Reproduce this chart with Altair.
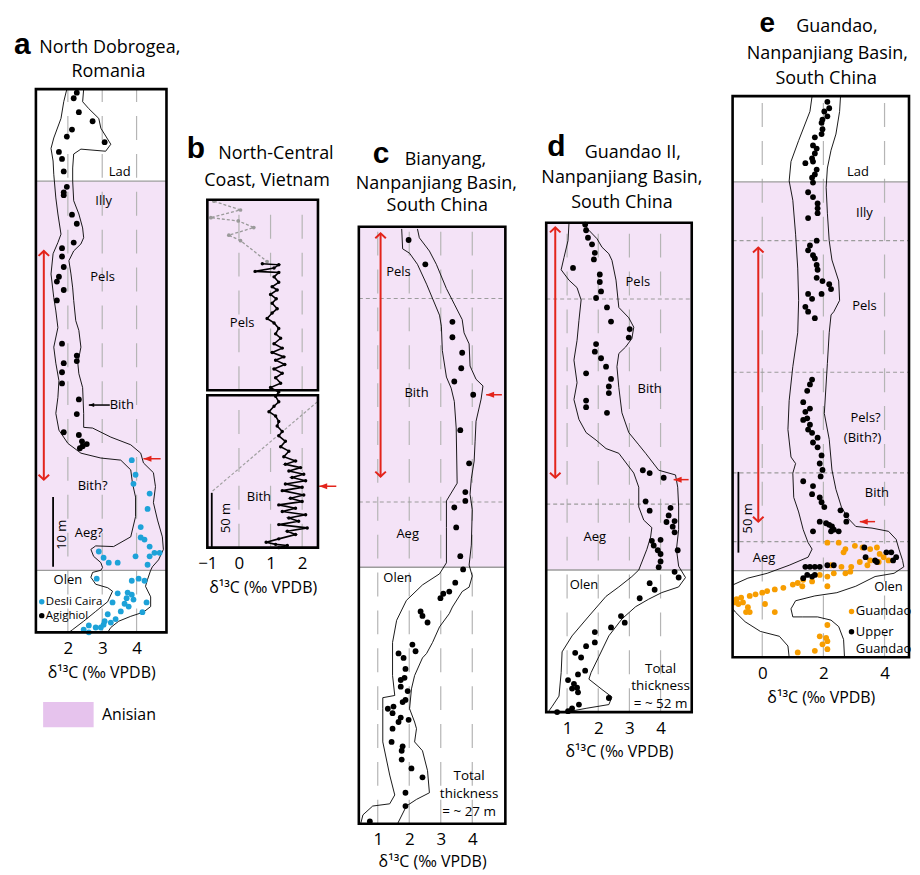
import altair as alt
import pandas as pd

FONT = "Open Sans"
LETTER_FONT = "Liberation Sans"
RED = "#e3241b"
PURPLE = "#f4e3f7"
PURPLE_KEY = "#e6c3ed"
BLUE = "#1da2d8"
ORANGE = "#f79d00"
GRID_GREY = "#b5b5b5"
LINE_GREY = "#9c9c9c"
AXIS_TITLE = "δ¹³C (‰ VPDB)"

# ---------------- panel a : North Dobrogea ----------------
A_AGI_D13C = [2.26, 2.17, 2.32, 2.72, 2.12, 1.97, 3.07, 1.74, 1.83, 1.88, 1.97, 1.88, 1.88, 2.12, 2.26, 2.17,
              1.83, 1.83, 1.88, 1.74, 1.68, 1.88, 1.68, 1.83, 2.26, 2.26, 1.88, 1.83, 1.83, 2.32, 2.26, 1.88,
              2.32, 2.41, 2.55, 2.35, 2.43]
A_AGI_H = [77.4, 76.6, 74.6, 73.3, 72.1, 71.1, 70.3, 68.9, 67.9, 66.1, 63.9, 63.1, 62.7, 59.9, 58.6, 55.9,
           55.1, 53.9, 52.4, 51.0, 50.3, 49.1, 47.6, 41.4, 39.7, 38.9, 38.6, 37.3, 35.7, 33.4, 31.3, 28.7,
           28.3, 27.4, 27.0, 26.4, 26.7]
A_DC_D13C = [3.86, 3.97, 3.91, 4.38, 4.32, 4.12, 4.12, 4.23, 4.38, 4.52, 4.67, 4.38, 4.32, 3.97, 2.90, 3.04,
             3.19, 3.45, 2.84, 3.86, 4.06, 4.23, 3.45, 3.74, 3.86, 3.91, 3.71, 3.65, 3.77, 4.29, 4.17, 3.30,
             3.16, 3.54, 3.39, 3.25, 3.07, 3.04, 2.96, 2.81, 2.61, 2.46, 2.61]
A_DC_H = [24.7, 22.6, 21.3, 19.9, 17.7, 15.1, 13.6, 13.3, 12.3, 11.4, 11.4, 10.9, 9.7, 10.9, 11.6, 10.7,
          10.0, 10.0, 7.7, 7.4, 7.7, 7.4, 5.6, 5.7, 5.4, 4.7, 4.9, 4.1, 3.7, 4.3, 2.9, 4.3,
          2.6, 3.0, 1.9, 1.4, 1.6, 1.1, 0.7, 0.7, 1.0, 0.4, 0.0]
A_ENV_L_D13C = [1.97, 1.88, 1.80, 1.59, 1.51, 1.57, 1.59, 1.65, 1.71, 1.80, 1.71, 1.57, 1.51, 1.59, 1.65, 1.71,
                1.59, 1.65, 1.74, 1.71, 1.65, 1.74, 2.00, 2.38, 2.96, 3.54, 3.83, 3.88, 3.97, 3.97, 3.83, 3.33,
                2.81, 2.67, 2.75, 2.96, 3.01, 2.96, 2.72, 2.67, 2.81, 3.16, 3.30, 3.16, 2.81, 2.46, 2.14, 2.03]
A_ENV_L_H = [77.9, 76.1, 73.7, 70.9, 69.4, 67.6, 65.7, 62.3, 60.0, 57.1, 55.9, 54.3, 51.4, 48.0, 46.1, 43.7,
             40.9, 38.6, 36.1, 33.7, 31.4, 29.0, 27.1, 25.7, 25.0, 24.7, 23.3, 21.4, 19.4, 16.6, 13.7, 12.3,
             12.4, 11.9, 10.9, 10.0, 9.3, 8.9, 8.6, 7.9, 6.9, 6.4, 5.9, 4.4, 3.0, 1.6, 0.4, 0.0]
A_ENV_R_D13C = [2.46, 2.43, 2.61, 2.90, 2.96, 3.25, 3.10, 2.38, 2.17, 2.14, 2.14, 2.17, 2.32, 2.43, 2.46, 2.38,
                2.17, 2.03, 2.09, 2.14, 2.17, 2.23, 2.32, 2.38, 2.29, 2.32, 2.43, 2.46, 2.46, 2.72, 3.25, 3.83,
                4.12, 4.20, 4.49, 4.55, 4.49, 4.61, 4.75, 4.78, 4.64, 4.46, 4.41, 4.32, 4.26, 4.41, 4.41, 4.20,
                3.83, 3.48, 3.25, 3.16]
A_ENV_R_H = [77.9, 76.1, 75.1, 73.7, 72.3, 70.0, 69.0, 69.3, 68.6, 66.6, 64.7, 61.9, 60.0, 58.0, 56.6, 55.7,
             54.7, 53.3, 51.4, 49.4, 47.6, 44.7, 43.3, 40.9, 38.6, 37.1, 35.1, 31.4, 29.4, 29.3, 28.0, 26.9,
             25.7, 24.3, 22.9, 20.9, 18.6, 16.1, 13.7, 11.9, 10.4, 9.4, 8.9, 7.6, 6.6, 5.1, 3.7, 2.9,
             2.3, 1.6, 0.7, 0.0]
A_STAGE_TEXT = ["Lad", "Illy", "Pels", "Bith", "Bith?", "Aeg?", "Olen"]
A_STAGE_D13C = [3.51, 3.04, 3.01, 3.57, 2.72, 2.61, 2.0]
A_STAGE_H = [66.0, 61.9, 50.9, 32.6, 21.0, 14.3, 7.5]

# ---------------- panel b : North-Central Coast, Vietnam ----------------
B_BLK_D13C = [0.74, 1.26, 1.11, 0.51, 1.26, 1.11, 1.26, 1.05, 1.21, 1.00, 1.18, 1.05, 1.21, 1.05, 0.89, 1.11,
              1.26, 1.16, 1.32, 1.11, 1.37, 1.05, 1.42, 1.16, 1.45, 1.11, 1.37, 1.16, 1.32, 1.00, 1.26, 1.16,
              1.26, 1.11, 0.95, 1.16, 1.26, 1.21, 1.37, 1.26, 1.47, 1.32, 1.58, 1.42, 1.79, 1.47, 1.95, 1.58,
              2.05, 1.68, 2.11, 1.47, 2.00, 1.37, 2.05, 1.63, 2.00, 1.26, 1.79, 1.37, 2.11, 1.58, 1.89, 1.26,
              2.16, 1.53, 1.79, 1.26, 0.86, 1.16, 1.53, 1.26]
B_BLK_H = [259, 258, 255, 252, 251, 247, 242, 238, 235, 231, 227, 223, 218, 214, 209, 205,
           200, 195, 191, 186, 182, 178, 174, 171, 167, 163, 159, 155, 150, 146, 142, 138,
           133, 129, 124, 120, 115, 111, 106, 102, 97, 92, 88, 83, 79, 76, 73, 70,
           67, 64, 61, 58, 55, 52, 48, 45, 42, 39, 36, 33, 30, 27, 24, 21,
           18, 15, 12, 8, 5, 3, 2, 0]
B_GREY_D13C = [-0.79, 0.05, -0.89, -0.02, 0.47, -0.32, 0.05, 0.89]
B_GREY_H = [316, 308, 301, 298, 292, 285, 280, 261]
B_STAGE_TEXT = ["Pels", "Bith"]
B_STAGE_D13C = [0.1, 0.63]
B_STAGE_H = [205, 46]

# ---------------- panel c : Bianyang ----------------
C_D13C = [1.98, 2.51, 3.37, 3.37, 3.68, 3.65, 3.43, 4.03, 3.62, 3.90, 3.78, 3.78, 3.43, 3.49, 3.62, 3.71,
          3.46, 3.27, 3.08, 2.99, 2.36, 2.42, 2.58, 2.10, 2.20, 1.66, 1.82, 1.88, 1.73, 1.85, 1.73, 1.95,
          1.79, 1.88, 1.32, 1.50, 1.47, 1.73, 1.66, 1.98, 1.47, 1.44, 1.79, 1.76, 1.76, 2.07, 2.42, 1.88,
          1.88, 0.75]
C_H = [26.4, 25.3, 22.7, 22.0, 21.3, 20.6, 20.0, 19.4, 17.8, 16.3, 15.0, 14.6, 14.3, 13.4, 12.1, 11.5,
       10.9, 10.5, 10.4, 10.2, 9.6, 9.4, 9.1, 8.1, 7.8, 7.7, 7.5, 7.0, 6.5, 6.6, 6.2, 6.0,
       5.5, 5.6, 5.2, 5.3, 5.0, 4.8, 4.6, 4.7, 4.3, 3.7, 3.5, 3.3, 2.9, 2.5, 2.1, 1.4,
       0.8, 0.1]
C_ENV_L_D13C = [1.76, 1.79, 2.01, 2.26, 2.55, 2.96, 3.02, 3.05, 3.18, 3.33, 3.43, 3.49, 3.52, 3.18, 3.18, 3.18,
                2.96, 2.42, 1.91, 1.60, 1.47, 1.47, 1.54, 1.16, 1.16, 1.16, 1.38, 1.54, 1.38, 0.84, 0.53, 0.46]
C_ENV_L_H = [26.9, 26.0, 25.8, 25.3, 24.4, 23.0, 22.5, 21.4, 20.2, 19.7, 19.1, 17.9, 15.4, 14.6, 13.4, 11.8,
             11.3, 10.8, 10.1, 9.2, 8.2, 6.7, 5.8, 5.7, 5.2, 3.7, 2.2, 1.3, 0.9, 0.8, 0.4, 0.0]
C_ENV_R_D13C = [2.26, 2.32, 2.64, 2.86, 3.18, 3.43, 3.68, 3.74, 3.90, 3.93, 4.12, 4.34, 4.28, 4.12, 4.09, 4.06,
                3.97, 3.93, 4.00, 3.97, 3.90, 4.00, 3.90, 3.68, 3.37, 3.27, 2.96, 2.74, 2.55, 2.42, 2.17, 2.07,
                2.01, 2.17, 2.23, 2.17, 2.42, 2.58, 2.64, 2.23, 1.91, 1.63]
C_ENV_R_H = [26.9, 26.5, 25.9, 25.3, 24.2, 23.5, 22.8, 22.2, 21.7, 20.7, 20.1, 19.8, 19.2, 18.2, 17.3, 16.4,
             15.6, 14.9, 14.2, 12.6, 11.7, 11.2, 10.7, 10.5, 9.8, 9.5, 8.9, 8.2, 7.7, 7.5, 6.7, 6.1,
             5.2, 4.6, 4.3, 3.7, 3.3, 2.4, 1.4, 1.1, 0.8, 0.0]
C_STAGE_TEXT = ["Pels", "Bith", "Aeg", "Olen"]
C_STAGE_D13C = [1.66, 2.23, 1.95, 1.63]
C_STAGE_H = [24.96, 19.5, 13.1, 11.1]
C_NOTE = ["Total", "thickness", "= ~ 27 m"]
C_NOTE_H = [2.14, 1.34, 0.54]

# ---------------- panel d : Guandao II ----------------
D_D13C = [1.58, 1.61, 1.67, 1.80, 1.89, 1.86, 1.19, 2.05, 2.05, 2.09, 1.93, 2.28, 2.41, 3.01, 2.98, 1.93,
          1.89, 2.09, 2.25, 1.61, 2.41, 2.34, 2.34, 1.61, 1.61, 2.28, 3.43, 3.65, 4.10, 3.52, 3.65, 4.32,
          4.26, 4.19, 4.45, 4.39, 4.45, 3.72, 3.78, 4.00, 3.91, 4.00, 4.55, 4.00, 3.94, 4.45, 4.58, 3.65,
          3.81, 3.33, 2.73, 2.85, 2.41, 1.89, 1.89, 1.61, 1.26, 1.45, 1.58, 1.35, 1.03, 1.22, 1.32, 1.35,
          1.16, 2.34, 1.38, 1.16, 1.03, 0.68]
D_H = [51.8, 51.2, 50.4, 49.7, 48.8, 48.1, 47.2, 46.5, 45.7, 44.7, 44.0, 43.0, 41.5, 40.7, 39.8, 39.1,
       38.3, 37.6, 36.7, 36.0, 35.4, 34.6, 33.9, 33.1, 32.4, 31.8, 25.7, 25.4, 24.9, 22.4, 21.4, 21.7,
       20.9, 20.2, 20.3, 19.7, 19.1, 18.2, 17.7, 18.3, 17.2, 16.8, 17.2, 16.0, 15.4, 14.9, 14.3, 13.7,
       13.0, 12.1, 10.2, 9.5, 9.0, 8.5, 7.4, 7.0, 6.3, 5.8, 4.4, 4.0, 3.4, 3.0, 2.6, 2.1,
       2.5, 1.5, 0.8, 0.4, 0.1, 0.0]
D_ENV_L_D13C = [1.06, 1.03, 0.90, 0.81, 1.06, 1.32, 1.45, 1.38, 1.32, 1.22, 1.32, 1.22, 1.38, 1.61, 1.93, 2.25,
                2.66, 3.14, 3.30, 3.30, 3.46, 3.72, 3.68, 3.56, 3.30, 3.08, 2.66, 2.25, 1.70, 1.16, 0.84, 0.81,
                0.74, 0.52, 0.39]
D_ENV_L_H = [51.9, 50.1, 48.3, 47.0, 45.9, 45.1, 43.8, 41.6, 39.5, 37.4, 35.0, 33.2, 31.1, 29.7, 28.9, 28.0,
             27.5, 25.4, 23.9, 21.8, 20.4, 19.6, 18.6, 17.3, 15.1, 14.4, 13.3, 12.3, 10.2, 8.1, 6.4, 4.2,
             1.7, 0.6, 0.0]
D_ENV_R_D13C = [1.54, 1.70, 1.96, 2.12, 2.34, 2.44, 2.57, 2.66, 2.98, 3.14, 3.08, 2.88, 2.66, 2.60, 2.66, 2.76,
                2.98, 3.30, 3.52, 3.94, 4.48, 4.55, 4.58, 4.58, 4.51, 4.58, 4.80, 4.58, 4.04, 3.62, 3.20, 2.76,
                2.34, 2.02, 1.77, 1.70, 2.12, 2.44, 2.34, 1.61, 0.97]
D_ENV_R_H = [51.9, 51.2, 50.3, 49.4, 48.7, 48.0, 45.9, 43.0, 41.9, 40.9, 39.7, 38.8, 38.1, 36.7, 34.5, 31.8,
             29.7, 28.4, 27.5, 25.7, 25.2, 23.9, 21.8, 19.4, 17.3, 15.5, 14.3, 13.3, 12.7, 12.0, 11.2, 9.9,
             8.1, 5.9, 4.2, 3.5, 2.4, 1.6, 0.8, 0.4, 0.0]
D_STAGE_TEXT = ["Pels", "Bith", "Aeg", "Olen"]
D_STAGE_D13C = [3.27, 3.65, 1.89, 1.54]
D_STAGE_H = [45.7, 34.3, 18.6, 13.5]
D_NOTE = ["Total", "thickness", "= ~ 52 m"]
D_NOTE_H = [4.6, 2.75, 0.85]

# ---------------- panel e : Guandao ----------------
E_UG_D13C = [2.13, 2.19, 2.03, 2.13, 1.97, 1.94, 1.97, 1.94, 1.72, 1.66, 1.78, 1.72, 1.63, 1.41, 1.66, 1.78,
             1.72, 1.63, 1.66, 1.50, 1.66, 1.81, 1.81, 1.81, 1.50, 1.78, 1.56, 1.50, 1.66, 1.72, 1.78, 1.81,
             1.78, 1.97, 2.19, 2.25, 1.94, 1.50, 1.63, 1.41, 1.50, 1.72,
             1.63, 1.56, 1.47, 1.34, 1.56, 1.41, 1.47, 1.34, 1.56, 1.50, 1.63, 1.81, 1.66, 1.81, 1.94, 1.88,
             1.97, 1.91, 1.34, 1.66, 1.63, 1.88, 1.94, 2.03, 2.56, 2.75, 2.75, 1.88, 2.09, 2.19, 2.28, 2.34,
             2.50, 1.66, 2.25,
             1.41, 1.56, 1.72, 1.88, 2.13, 2.34, 1.47, 1.63, 1.34, 1.72, 3.34, 3.38, 3.69, 3.75, 4.06, 4.22,
             4.28, 4.38]
E_UG_H = [344, 340, 338, 335, 333, 331, 327, 324, 322, 317, 315, 312, 309, 306, 307, 302,
          299, 297, 294, 288, 285, 281, 278, 275, 272, 258, 255, 252, 249, 247, 243, 240,
          235, 233, 231, 228, 225, 225, 222, 217, 214, 210,
          172, 169, 165, 158, 154, 152, 148, 147, 144, 141, 139, 136, 133, 130, 125, 120,
          116, 112, 109, 106, 101, 99, 96, 93, 91, 88, 84, 84, 83, 82, 81, 79,
          78, 78, 78,
          56, 56, 56, 56, 57, 57, 51, 50, 49, 51, 68, 62, 60, 59, 65, 65,
          60, 62]
E_G_D13C = [2.13, 2.50, 2.72, 3.03, 3.28, 3.53, 3.75, 3.84, 3.53, 3.81, 4.13, 3.97, 3.19, 2.91, 2.59, 2.25,
            3.44, 2.88, 2.72, 2.34, 2.13, 1.88, 1.63, 1.34, 1.31, 2.13, 1.16, 1.00, 0.69, 0.41, 0.16, 0.00,
            -0.22, -0.41, -0.69, -0.84, -0.78, -0.63, -0.88, -0.47, -0.41, -0.53, 0.09, 0.41, 2.13, 1.88,
            2.09, 2.13, 1.97, 2.13, 1.72, 1.16, 2.66]
E_G_H = [71, 71, 67, 69, 68, 67, 68, 64, 60, 59, 60, 62, 59, 56, 56, 57,
         57, 53, 52, 52, 50, 51, 47, 48, 44, 44, 46, 45, 43, 42, 41, 40,
         39, 38, 37, 36, 33, 34, 34, 31, 28, 28, 33, 28, 20, 13,
         12, 10, 8, 5, 4, 3, 65]
E_ENV_L_D13C = [1.63, 1.56, 1.19, 0.94, 0.88, 1.00, 1.09, 1.16, 1.19, 1.16, 1.00, 0.88, 0.84, 0.94, 1.09, 1.00,
                1.03, 1.19, 1.34, 1.50, 1.63, 1.50, 0.88, 0.16, -0.47, -0.94, -1.25, -1.09, -0.88, -0.56, -0.06,
                0.56, 0.84, 0.88]
E_ENV_L_H = [347.5, 338, 320, 307, 295, 283, 262, 241, 221, 201, 180, 159, 141, 124, 120, 114,
             99, 90, 79, 71, 67, 62, 57, 52, 49, 45, 39, 33, 28, 22, 16,
             13, 7, 0]
E_ENV_R_D13C = [2.56, 2.53, 2.41, 2.25, 2.13, 2.09, 2.13, 2.19, 2.28, 2.50, 2.53, 2.34, 2.25, 2.19, 2.13, 2.03,
                2.19, 2.28, 2.41, 2.59, 2.81, 3.06, 3.59, 4.13, 4.38, 4.47, 4.59, 4.63, 4.31, 3.69, 3.06, 2.44,
                1.72, 1.09, 0.94, 1.00, 1.31, 1.81, 2.25, 2.50, 2.66, 2.69]
E_ENV_R_H = [347.5, 338, 324, 314, 303, 291, 275, 258, 246, 233, 221, 214, 212, 201, 182, 151,
             135, 116, 104, 93, 86, 81, 80, 78, 73, 67, 60, 56, 52, 50, 44, 40,
             38, 35, 30, 25, 25, 25, 23, 19, 11, 0]
E_STAGE_TEXT = ["Lad", "Illy", "Pels", "Pels?", "(Bith?)", "Bith", "Aeg", "Olen"]
E_STAGE_D13C = [3.13, 3.34, 3.34, 3.38, 3.28, 3.75, 0.06, 4.13]
E_STAGE_H = [300.6, 275.3, 217.3, 148.1, 135.8, 101.9, 61.7, 43.8]


def env_df(ld, lh, rd, rh):
    rows = []
    for side, ds, hs in (("L", ld, lh), ("R", rd, rh)):
        for i, (d, h) in enumerate(zip(ds, hs)):
            rows.append({"side": side, "i": i, "d": d, "h": h})
    return pd.DataFrame(rows)


def build_panel(P):
    x0, x1 = P["xdom"]
    xs = alt.Scale(domain=[x0, x1], nice=False, zero=False)
    ys = alt.Scale(domain=[0, P["H"]], range=[P["height"], P["top"]], nice=False, zero=False)
    ax = alt.Axis(values=P["ticks"], title=AXIS_TITLE, grid=False, domain=False, ticks=False,
                  labelFlush=False, labelAngle=0, labelFontSize=17, titleFontSize=16, labelPadding=8,
                  titlePadding=P.get("tpad", 8), titleFontWeight="normal", format="d", labelFont=FONT,
                  titleFont=FONT, labelColor="black", titleColor="black")

    def X(f="d"):
        return alt.X(f, type="quantitative", scale=xs, axis=ax)

    def Y(f="h"):
        return alt.Y(f, type="quantitative", scale=ys, axis=None)

    L = []
    # Anisian shading
    pur = pd.DataFrame({"d": [x0] * len(P["purple"]), "d2": [x1] * len(P["purple"]),
                        "h": [a for a, b in P["purple"]], "h2": [b for a, b in P["purple"]]})
    L.append(alt.Chart(pur).mark_rect(color=PURPLE).encode(x=X(), x2=alt.X2("d2"), y=Y(), y2=alt.Y2("h2")))
    # vertical dashed grid
    grid = pd.DataFrame([{"d": t, "h": a, "h2": b} for t in P["ticks_grid"] for a, b in P["boxes"]])
    L.append(alt.Chart(grid).mark_rule(color=GRID_GREY, strokeWidth=1.2, strokeDash=[24, 14])
             .encode(x=X(), y=Y(), y2=alt.Y2("h2")))
    # stage boundaries
    if P.get("solid"):
        sd = pd.DataFrame({"d": [x0] * len(P["solid"]), "d2": [x1] * len(P["solid"]), "h": P["solid"]})
        L.append(alt.Chart(sd).mark_rule(color=LINE_GREY, strokeWidth=1.3)
                 .encode(x=X(), x2=alt.X2("d2"), y=Y()))
    if P.get("dashed"):
        dd = pd.DataFrame({"d": [x0] * len(P["dashed"]), "d2": [x1] * len(P["dashed"]), "h": P["dashed"]})
        L.append(alt.Chart(dd).mark_rule(color=LINE_GREY, strokeWidth=1.1, strokeDash=[4, 3])
                 .encode(x=X(), x2=alt.X2("d2"), y=Y()))
    # diagonal correlation line (b)
    for (da, ha, db, hb) in P.get("diag", []):
        L.append(alt.Chart(pd.DataFrame({"d": [da], "h": [ha], "d2": [db], "h2": [hb]}))
                 .mark_rule(color="#a0a0a0", strokeWidth=1.2, strokeDash=[3, 2])
                 .encode(x=X(), y=Y(), x2=alt.X2("d2"), y2=alt.Y2("h2")))
    # envelope
    if P.get("env") is not None:
        L.append(alt.Chart(P["env"]).mark_line(color="black", strokeWidth=0.9, clip=True)
                 .encode(x=X(), y=Y(), detail=alt.Detail("side:N"), order=alt.Order("i:Q")))
    # profile lines (b)
    for (ds, hs, col, dash, sw, ps) in P.get("plines", []):
        dfl = pd.DataFrame({"d": ds, "h": hs, "i": list(range(len(ds)))})
        kw = dict(color=col, strokeWidth=sw,
                  point=alt.OverlayMarkDef(color=col, size=ps, filled=True, opacity=1))
        if dash:
            kw["strokeDash"] = dash
        L.append(alt.Chart(dfl).mark_line(**kw).encode(x=X(), y=Y(), order=alt.Order("i:Q")))
    # data points
    for (ds, hs, col) in P.get("points", []):
        L.append(alt.Chart(pd.DataFrame({"d": ds, "h": hs})).mark_circle(size=34, color=col, opacity=1)
                 .encode(x=X(), y=Y()))
    # stage labels
    st, sdx, shy = P["stages"]
    L.append(alt.Chart(pd.DataFrame({"t": st, "d": sdx, "h": shy}))
             .mark_text(font=FONT, fontSize=13, color="black", baseline="middle")
             .encode(x=X(), y=Y(), text=alt.Text("t:N")))
    # notes
    if P.get("note"):
        nt, nd, nh = P["note"]
        L.append(alt.Chart(pd.DataFrame({"t": nt, "d": [nd] * len(nt), "h": nh}))
                 .mark_text(font=FONT, fontSize=13.5, color="black", baseline="middle")
                 .encode(x=X(), y=Y(), text=alt.Text("t:N")))
    # scale bar
    if P.get("scalebar"):
        sbd, h0, h1, txt, td, th = P["scalebar"]
        L.append(alt.Chart(pd.DataFrame({"d": [sbd], "h": [h0], "h2": [h1]}))
                 .mark_rule(color="black", strokeWidth=1.8).encode(x=X(), y=Y(), y2=alt.Y2("h2")))
        L.append(alt.Chart(pd.DataFrame({"t": [txt], "d": [td], "h": [th]}))
                 .mark_text(font=FONT, fontSize=13, angle=270, baseline="middle", color="black")
                 .encode(x=X(), y=Y(), text=alt.Text("t:N")))
    # red double arrow
    if P.get("redarrow"):
        rd, h0, h1 = P["redarrow"]
        L.append(alt.Chart(pd.DataFrame({"d": [rd], "h": [h0], "h2": [h1]}))
                 .mark_rule(color=RED, strokeWidth=2).encode(x=X(), y=Y(), y2=alt.Y2("h2")))
        L.append(alt.Chart(pd.DataFrame({"d": [rd], "h": [h1]}))
                 .mark_point(shape="M-0.75,0.7L0,0L0.75,0.7", filled=False, size=200, strokeWidth=2,
                             color=RED, opacity=1).encode(x=X(), y=Y()))
        L.append(alt.Chart(pd.DataFrame({"d": [rd], "h": [h0]}))
                 .mark_point(shape="M-0.75,-0.7L0,0L0.75,-0.7", filled=False, size=200, strokeWidth=2,
                             color=RED, opacity=1).encode(x=X(), y=Y()))
    # small pointing arrows
    for (dt, dh, hh, col, sz) in P.get("pointers", []):
        L.append(alt.Chart(pd.DataFrame({"d": [dh], "d2": [dt], "h": [hh]}))
                 .mark_rule(color=col, strokeWidth=1.5).encode(x=X(), x2=alt.X2("d2"), y=Y()))
        L.append(alt.Chart(pd.DataFrame({"d": [dh], "h": [hh]}))
                 .mark_point(shape="M0,0L1.6,-0.6L1.6,0.6Z", filled=True, size=sz, color=col, opacity=1)
                 .encode(x=X(), y=Y()))
    # legend entries inside panel
    for (col, dd, dhh, txt, td, fs) in P.get("legend", []):
        if col:
            L.append(alt.Chart(pd.DataFrame({"d": [dd], "h": [dhh]}))
                     .mark_circle(size=30, color=col, opacity=1).encode(x=X(), y=Y()))
        L.append(alt.Chart(pd.DataFrame({"t": [txt], "d": [td], "h": [dhh]}))
                 .mark_text(font=FONT, fontSize=fs, align="left", baseline="middle", color="black")
                 .encode(x=X(), y=Y(), text=alt.Text("t:N")))
    # Anisian key
    if P.get("key"):
        kd0, kd1, kh0, kh1, ktd, kth = P["key"]
        L.append(alt.Chart(pd.DataFrame({"d": [kd0], "d2": [kd1], "h": [kh0], "h2": [kh1]}))
                 .mark_rect(color=PURPLE_KEY).encode(x=X(), x2=alt.X2("d2"), y=Y(), y2=alt.Y2("h2")))
        L.append(alt.Chart(pd.DataFrame({"t": ["Anisian"], "d": [ktd], "h": [kth]}))
                 .mark_text(font=FONT, fontSize=16, align="left", baseline="middle", color="black")
                 .encode(x=X(), y=Y(), text=alt.Text("t:N")))
    # frames
    fr = pd.DataFrame({"d": [x0] * len(P["boxes"]), "d2": [x1] * len(P["boxes"]),
                       "h": [a for a, b in P["boxes"]], "h2": [b for a, b in P["boxes"]]})
    L.append(alt.Chart(fr).mark_rect(fillOpacity=0, stroke="black", strokeWidth=2.6)
             .encode(x=X(), x2=alt.X2("d2"), y=Y(), y2=alt.Y2("h2")))
    # title
    letter, ld, lh, lsize, lines = P["title"]
    L.append(alt.Chart(pd.DataFrame({"t": [letter], "d": [ld], "h": [lh]}))
             .mark_text(font=LETTER_FONT, fontSize=lsize, fontWeight="bold", align="left",
                        baseline="alphabetic", color="black")
             .encode(x=X(), y=Y(), text=alt.Text("t:N")))
    L.append(alt.Chart(pd.DataFrame({"t": [a for a, b, c in lines], "d": [b for a, b, c in lines],
                                     "h": [c for a, b, c in lines]}))
             .mark_text(font=FONT, fontSize=18, align="center", baseline="alphabetic", color="black")
             .encode(x=X(), y=Y(), text=alt.Text("t:N")))
    return alt.layer(*L).properties(width=P["width"], height=P["height"])


PA = dict(xdom=[1.07, 4.87], H=77.9, width=131, height=545, top=0,
          ticks=[2, 3, 4], ticks_grid=[2, 3, 4], boxes=[(0, 77.9)], purple=[(8.9, 64.7)],
          solid=[64.7, 8.9], dashed=[],
          env=env_df(A_ENV_L_D13C, A_ENV_L_H, A_ENV_R_D13C, A_ENV_R_H),
          points=[(A_AGI_D13C, A_AGI_H, "black"), (A_DC_D13C, A_DC_H, BLUE)],
          stages=(A_STAGE_TEXT, A_STAGE_D13C, A_STAGE_H),
          scalebar=(1.57, 9.4, 19.4, "10 m", 1.82, 14.0),
          redarrow=(1.30, 21.9, 54.7),
          pointers=[(4.70, 4.20, 24.9, RED, 100), (3.22, 2.61, 32.6, "black", 45)],
          legend=[(BLUE, 1.24, 4.4, "Desli Caira", 1.36, 11.5), ("black", 1.24, 2.4, "Agighiol", 1.36, 11.5)],
          key=(1.28, 2.75, -10.0, -13.6, 2.99, -11.9),
          title=("a", 0.43, 83.0, 30, [("North Dobrogea,", 3.22, 83.1), ("Romania", 3.18, 79.7)]))

PB = dict(xdom=[-1.0, 2.5], H=317.3, width=111, height=460, top=111,
          ticks=[-1, 0, 1, 2], ticks_grid=[0, 1, 2], boxes=[(0, 139), (143.6, 317.3)],
          purple=[(0, 139), (143.6, 317.3)], solid=[], dashed=[],
          diag=[(2.48, 133, -0.86, 51)], env=None,
          plines=[(B_GREY_D13C, B_GREY_H, "#9a9a9a", [3, 2], 1.3, 14),
                  (B_BLK_D13C, B_BLK_H, "black", None, 1.6, 12)],
          stages=(B_STAGE_TEXT, B_STAGE_D13C, B_STAGE_H),
          scalebar=(-0.86, 0, 50, "50 m", -0.41, 27),
          pointers=[(3.08, 2.54, 56, RED, 100)],
          title=("b", -1.65, 355.5, 30, [("North-Central", 1.17, 354.5), ("Coast, Vietnam", 0.89, 330)]))

PC = dict(xdom=[0.4, 5.05], H=27.0, width=147, height=737, top=138, tpad=6,
          ticks=[1, 2, 3, 4], ticks_grid=[1, 2, 3, 4], boxes=[(0, 27.0)], purple=[(11.6, 27.0)],
          solid=[11.6], dashed=[23.75, 14.55],
          env=env_df(C_ENV_L_D13C, C_ENV_L_H, C_ENV_R_D13C, C_ENV_R_H),
          points=[(C_D13C, C_H, "black")],
          stages=(C_STAGE_TEXT, C_STAGE_D13C, C_STAGE_H),
          note=(C_NOTE, 3.90, C_NOTE_H),
          redarrow=(1.09, 15.7, 26.7),
          pointers=[(4.94, 4.44, 19.4, RED, 100)],
          title=("c", 0.84, 29.9, 30, [("Bianyang,", 3.15, 29.8), ("Nanpanjiang Basin,", 2.86, 28.7),
                                       ("South China", 2.89, 27.7)]))

PD = dict(xdom=[0.33, 5.0], H=52.0, width=146, height=625, top=134,
          ticks=[1, 2, 3, 4], ticks_grid=[1, 2, 3, 4], boxes=[(0, 52.0)], purple=[(15.1, 52.0)],
          solid=[15.1], dashed=[43.9, 22.1],
          env=env_df(D_ENV_L_D13C, D_ENV_L_H, D_ENV_R_D13C, D_ENV_R_H),
          points=[(D_D13C, D_H, "black")],
          stages=(D_STAGE_TEXT, D_STAGE_D13C, D_STAGE_H),
          note=(D_NOTE, 4.00, D_NOTE_H),
          redarrow=(0.62, 24.9, 51.5),
          pointers=[(4.90, 4.42, 24.7, RED, 100)],
          title=("d", 0.36, 59.1, 30, [("Guandao II,", 3.11, 58.9), ("Nanpanjiang Basin,", 2.76, 56.25),
                                       ("South China", 2.76, 53.6)]))

PE = dict(xdom=[-0.97, 4.8], H=347.5, width=177, height=570, top=7,
          ticks=[0, 2, 4], ticks_grid=[0, 2, 4], boxes=[(0, 347.5)], purple=[(53.7, 294.4)],
          solid=[294.4, 53.7], dashed=[258, 176.5, 114.2, 71.6],
          env=env_df(E_ENV_L_D13C, E_ENV_L_H, E_ENV_R_D13C, E_ENV_R_H),
          points=[(E_G_D13C, E_G_H, ORANGE), (E_UG_D13C, E_UG_H, "black")],
          stages=(E_STAGE_TEXT, E_STAGE_D13C, E_STAGE_H),
          scalebar=(-0.78, 64.8, 114.8, "50 m", -0.47, 86),
          redarrow=(-0.13, 84, 253.7),
          pointers=[(3.69, 3.19, 84, RED, 100)],
          legend=[(ORANGE, 2.92, 28.4, "Guandao", 3.06, 13), ("black", 2.92, 15.8, "Upper", 3.06, 13),
                  (None, 2.92, 5.0, "Guandao", 3.06, 13)],
          title=("e", -0.09, 387, 28, [("Guandao,", 2.44, 387), ("Nanpanjiang Basin,", 2.13, 370.4),
                                       ("South China", 2.09, 355.0)]))

chart = alt.hconcat(*[build_panel(p) for p in (PA, PB, PC, PD, PE)], spacing=41, bounds="flush").properties(
    padding={"left": 5, "top": 0, "right": 0, "bottom": 0}
).configure_view(stroke="transparent")

chart.save("out.html", embed_options={"renderer": "svg", "actions": False})
